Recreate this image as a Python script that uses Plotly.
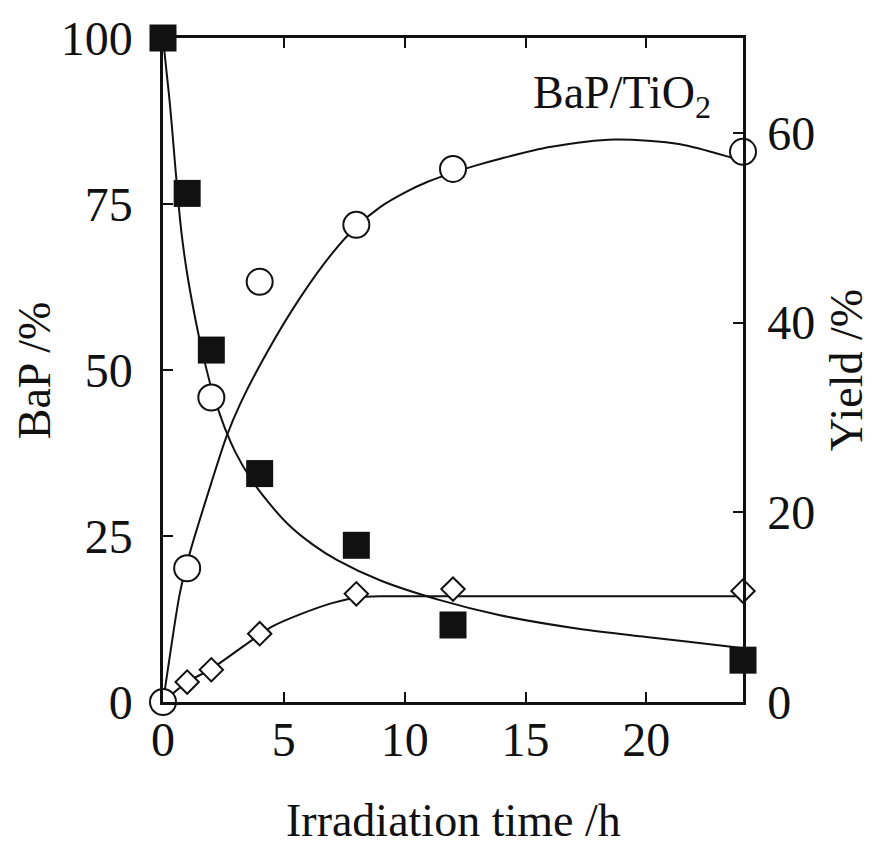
import plotly.graph_objects as go

# ---- data ----
time_h = [0, 1, 2, 4, 8, 12, 24]
bap_pct = [100, 76.6, 53.0, 34.4, 23.6, 11.6, 6.3]          # filled squares, left axis
yield_circle = [0, 14.1, 32.1, 44.3, 50.3, 56.2, 58.0]      # open circles, right axis
yield_diamond = [0, 2.1, 3.4, 7.2, 11.4, 11.9, 11.7]        # open diamonds, right axis

# fitted curves
bap_fit_t = [0, 0.15, 0.29, 0.43, 0.63, 0.77, 1.0, 1.46, 1.74, 2.0, 2.29, 2.63, 3.0, 3.6, 4.4, 5.25, 6.2, 7.19, 9.0, 11.5, 13.9, 17.25, 20.0, 23.6, 24]
bap_fit_v = [100, 94.8, 89.9, 84.0, 75.5, 70.5, 64.5, 55.5, 51.0, 47.3, 44.0, 40.6, 37.6, 33.8, 29.9, 26.5, 23.7, 21.4, 18.3, 15.3, 13.1, 11.0, 9.8, 8.3, 8.1]

circ_fit_t = [0, 0.35, 0.7, 1.12, 2.0, 2.63, 3.19, 4.29, 5.67, 7.0, 8.0, 9.0, 10.0, 11.0, 12.0, 13.0, 14.0, 16.0, 18.7, 21.4, 23.5, 24]
circ_fit_v = [0, 6.0, 11.5, 15.8, 23.1, 28.0, 31.4, 36.8, 42.6, 47.3, 50.1, 52.2, 53.7, 54.9, 55.8, 56.6, 57.3, 58.5, 59.3, 58.8, 57.4, 57.0]

diam_fit_t = [0, 1, 2, 4, 4.55, 5.67, 7.03, 8.0, 9.0, 10.0, 12.0, 24.0]
diam_fit_v = [0, 2.1, 3.5, 7.1, 8.0, 9.24, 10.45, 11.0, 11.15, 11.15, 11.15, 11.15]

x_ticks = [0, 5, 10, 15, 20]
left_ticks = [0, 25, 50, 75, 100]
right_ticks = [0, 20, 40, 60]

FONT = "Liberation Serif, Times New Roman, serif"
BLACK = "#111111"

fig = go.Figure()

line_style = dict(color=BLACK, width=2, shape="spline", smoothing=0.8)
fig.add_trace(go.Scatter(x=bap_fit_t, y=bap_fit_v, mode="lines", line=line_style,
                         yaxis="y", showlegend=False, hoverinfo="skip"))
fig.add_trace(go.Scatter(x=circ_fit_t, y=circ_fit_v, mode="lines", line=line_style,
                         yaxis="y2", showlegend=False, hoverinfo="skip"))
fig.add_trace(go.Scatter(x=diam_fit_t, y=diam_fit_v, mode="lines", line=line_style,
                         yaxis="y2", showlegend=False, hoverinfo="skip"))

fig.add_trace(go.Scatter(x=time_h, y=yield_diamond, mode="markers", yaxis="y2",
                         marker=dict(symbol="diamond", size=18, color="white",
                                     line=dict(color=BLACK, width=2)),
                         cliponaxis=False, showlegend=False))
fig.add_trace(go.Scatter(x=time_h, y=yield_circle, mode="markers", yaxis="y2",
                         marker=dict(symbol="circle", size=26, color="white",
                                     line=dict(color=BLACK, width=2)),
                         cliponaxis=False, showlegend=False))
fig.add_trace(go.Scatter(x=time_h, y=bap_pct, mode="markers", yaxis="y",
                         marker=dict(symbol="square", size=27, color=BLACK,
                                     line=dict(color=BLACK, width=0)),
                         cliponaxis=False, showlegend=False))

axis_common = dict(showline=True, linecolor=BLACK, linewidth=2.5, ticks="inside",
                   ticklen=10, tickwidth=2, tickcolor=BLACK, showgrid=False,
                   zeroline=False, tickfont=dict(family=FONT, size=48, color=BLACK))

fig.update_layout(
    width=874, height=851,
    margin=dict(l=163, r=131, t=32, b=149),
    paper_bgcolor="white", plot_bgcolor="white",
    xaxis=dict(range=[0, 24], tickvals=x_ticks, mirror="ticks",
               ticklabelstandoff=-6, **axis_common),
    yaxis=dict(range=[0, 100], tickvals=left_ticks, ticklabelstandoff=18, **axis_common),
    yaxis2=dict(range=[0, 70], tickvals=right_ticks, overlaying="y", side="right",
                ticklabelstandoff=12, **axis_common),
    annotations=[
        dict(text="BaP /%", xref="paper", yref="paper", x=-0.222, y=0.5,
             textangle=-90, showarrow=False, xanchor="center", yanchor="middle",
             font=dict(family=FONT, size=46, color=BLACK)),
        dict(text="Yield /%", xref="paper", yref="paper", x=1.178, y=0.5,
             textangle=-90, showarrow=False, xanchor="center", yanchor="middle",
             font=dict(family=FONT, size=46, color=BLACK)),
        dict(text="Irradiation time /h", xref="paper", yref="paper", x=0.5, y=-0.178,
             showarrow=False, xanchor="center", yanchor="middle",
             font=dict(family=FONT, size=46, color=BLACK)),
        dict(text="BaP/TiO<sub>2</sub>", xref="paper", yref="paper", x=0.948, y=0.912,
             showarrow=False, xanchor="right", yanchor="middle",
             font=dict(family=FONT, size=46, color=BLACK)),
    ],
)

fig.write_html("out.html")
